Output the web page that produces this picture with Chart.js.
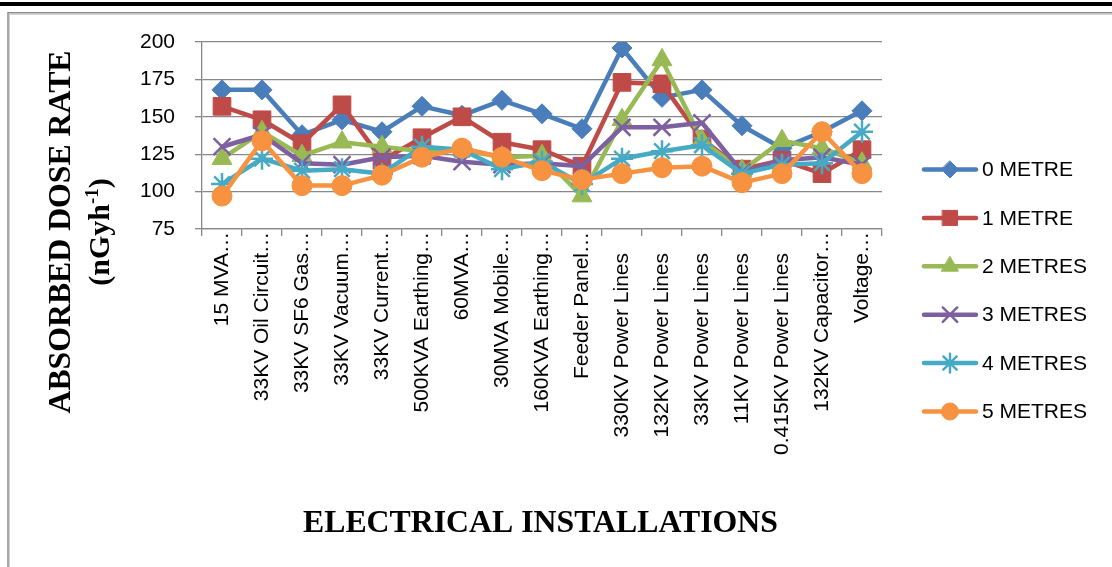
<!DOCTYPE html>
<html>
<head>
<meta charset="utf-8">
<title>Absorbed dose rate by electrical installation</title>
<script src="https://cdn.jsdelivr.net/npm/chart.js@4.4.1/dist/chart.umd.min.js"></script>
<style>
  html, body { margin: 0; padding: 0; background: #ffffff; }
  #wrap { position: relative; width: 1112px; height: 567px; }
</style>
</head>
<body>
<div id="wrap"><canvas id="doseChart"></canvas></div>
<script>
// Installations surveyed (labels as printed on the category axis)
const categories = [
  '15 MVA\u2026', '33KV Oil Circuit\u2026', '33KV SF6 Gas\u2026', '33KV Vacuum\u2026',
  '33KV Current\u2026', '500KVA Earthing\u2026', '60MVA\u2026', '30MVA Mobile\u2026',
  '160KVA Earthing\u2026', 'Feeder Panel\u2026', '330KV Power Lines', '132KV Power Lines',
  '33KV Power Lines', '11KV Power Lines', '0.415KV Power Lines', '132KV Capacitor\u2026',
  'Voltage\u2026'
];

// Measurement distance from each installation
const seriesNames = ['0 METRE', '1 METRE', '2 METRES', '3 METRES', '4 METRES', '5 METRES'];

// Absorbed dose rate (nGy/h) at each distance
const metre0 = [168, 168, 138, 148, 140, 157, 151, 161, 152, 142, 196, 163, 168, 144, 129, 140, 154];
const metre1 = [157, 148, 132, 158, 121, 136, 150, 133, 128, 117, 173, 172, 135, 115, 121, 112, 128];
const metre2 = [122, 140, 124, 133, 130, 127, 128, 123, 124, 97, 148, 188, 134, 114, 134, 129, 119];
const metre3 = [130, 138, 119, 118, 123, 124, 120, 118, 119, 117, 143, 143, 146, 113, 121, 123, 118];
const metre4 = [105, 122, 114, 115, 112, 130, 128, 115, 120, 105, 122, 127, 131, 112, 118, 119, 140];
const metre5 = [97, 134, 104, 104, 111, 123, 129, 123, 114, 108, 112, 116, 117, 106, 112, 140, 112];

// Value axis ticks
const yTicks = [75, 100, 125, 150, 175, 200];

const seriesValues = [metre0, metre1, metre2, metre3, metre4, metre5];

// Series appearance
const seriesColors = ['#4a7ebb', '#be4b48', '#98b954', '#7d60a0', '#46aac5', '#f69240'];
const markerStyles = ['rectRot', 'rect', 'triangle', 'crossRot', 'star', 'circle'];
const markerRadius = [10, 12.5, 11.5, 12, 11, 10];
const markerBorder = [1, 1, 1, 2.5, 2.5, 1];

const sansFont = '"Liberation Sans", Arial, sans-serif';
const serifFont = '"Liberation Serif", "Times New Roman", serif';
const gridColor = '#888888';

const datasets = seriesValues.map((vals, i) => ({
  label: seriesNames[i],
  data: vals,
  borderColor: seriesColors[i],
  backgroundColor: seriesColors[i],
  borderWidth: 4.5,
  borderJoinStyle: 'round',
  borderCapStyle: 'round',
  pointStyle: markerStyles[i],
  pointRadius: markerRadius[i],
  pointHoverRadius: markerRadius[i],
  pointBackgroundColor: seriesColors[i],
  pointBorderColor: seriesColors[i],
  pointBorderWidth: markerBorder[i],
  tension: 0,
  order: seriesValues.length - 1 - i
}));

// Marker shapes for the legend keys
function drawMarker(ctx, style, x, y, r, color, bw) {
  ctx.save();
  ctx.fillStyle = color;
  ctx.strokeStyle = color;
  ctx.lineWidth = bw;
  ctx.beginPath();
  const s = Math.SQRT1_2 * r;
  switch (style) {
    case 'rectRot':
      ctx.moveTo(x, y - r); ctx.lineTo(x + r, y); ctx.lineTo(x, y + r); ctx.lineTo(x - r, y);
      ctx.closePath(); ctx.fill(); ctx.stroke(); break;
    case 'rect':
      ctx.rect(x - s, y - s, 2 * s, 2 * s); ctx.fill(); ctx.stroke(); break;
    case 'triangle':
      for (let k = 0; k < 3; k++) {
        const a = k * 2 * Math.PI / 3;
        const px = x + Math.sin(a) * r, py = y - Math.cos(a) * r;
        if (k === 0) ctx.moveTo(px, py); else ctx.lineTo(px, py);
      }
      ctx.closePath(); ctx.fill(); ctx.stroke(); break;
    case 'crossRot':
      ctx.moveTo(x - s, y - s); ctx.lineTo(x + s, y + s);
      ctx.moveTo(x + s, y - s); ctx.lineTo(x - s, y + s);
      ctx.stroke(); break;
    case 'star':
      ctx.moveTo(x - s, y - s); ctx.lineTo(x + s, y + s);
      ctx.moveTo(x + s, y - s); ctx.lineTo(x - s, y + s);
      ctx.moveTo(x, y - r); ctx.lineTo(x, y + r);
      ctx.moveTo(x - r, y); ctx.lineTo(x + r, y);
      ctx.stroke(); break;
    default:
      ctx.arc(x, y, r, 0, Math.PI * 2); ctx.fill(); ctx.stroke();
  }
  ctx.restore();
}

// Horizontal scale that fits a text run to a given length
function fittedText(ctx, text, width) {
  const natural = ctx.measureText(text).width;
  return Math.min(1.06, width / natural);
}

const decorations = {
  id: 'decorations',
  beforeDraw(chart) {
    const ctx = chart.ctx;
    ctx.save();
    ctx.fillStyle = '#ffffff';
    ctx.fillRect(0, 0, chart.width, chart.height);
    // heavy rule across the top
    ctx.fillStyle = '#000000';
    ctx.fillRect(0, 2, chart.width, 4);
    // chart frame
    ctx.strokeStyle = '#8a8a8a';
    ctx.lineWidth = 1.5;
    ctx.strokeRect(8, 12.75, chart.width + 20, chart.height + 20);
    ctx.strokeStyle = '#d2d2d2';
    ctx.lineWidth = 1;
    ctx.strokeRect(9.5, 14.5, chart.width + 20, chart.height + 20);
    ctx.restore();
  },
  afterDraw(chart) {
    const ctx = chart.ctx;
    ctx.save();

    // legend
    const legendTop = 169.5, legendStep = 48.4;
    ctx.font = '21px ' + sansFont;
    ctx.textBaseline = 'middle';
    ctx.textAlign = 'left';
    chart.data.datasets.forEach((ds, i) => {
      const y = legendTop + i * legendStep;
      ctx.strokeStyle = ds.borderColor;
      ctx.lineWidth = 4.5;
      ctx.lineCap = 'round';
      ctx.beginPath();
      ctx.moveTo(924, y);
      ctx.lineTo(976, y);
      ctx.stroke();
      drawMarker(ctx, ds.pointStyle, 950, y, ds.pointRadius * 0.85, ds.borderColor, ds.pointBorderWidth);
      ctx.fillStyle = '#000000';
      ctx.fillText(ds.label, 982, y + 1);
    });

    // category axis title
    ctx.fillStyle = '#000000';
    ctx.font = 'bold 32px ' + serifFont;
    ctx.textAlign = 'center';
    ctx.textBaseline = 'alphabetic';
    const xTitle = 'ELECTRICAL INSTALLATIONS';
    const sx = fittedText(ctx, xTitle, 475);
    ctx.save();
    ctx.translate(540.5, 532);
    ctx.scale(sx, 1);
    ctx.fillText(xTitle, 0, 0);
    ctx.restore();

    // value axis title, two rotated lines
    const yTitle = 'ABSORBED DOSE RATE';
    ctx.save();
    ctx.translate(70, 232);
    ctx.rotate(-Math.PI / 2);
    ctx.font = 'bold 32px ' + serifFont;
    const sy = fittedText(ctx, yTitle, 363);
    ctx.scale(sy, 1);
    ctx.fillText(yTitle, 0, 0);
    ctx.restore();

    ctx.save();
    ctx.translate(109, 232);
    ctx.rotate(-Math.PI / 2);
    ctx.textAlign = 'left';
    const bigFont = 'bold 30px ' + serifFont;
    const supFont = 'bold 19px ' + serifFont;
    ctx.font = bigFont;
    const w1 = ctx.measureText('(nGyh').width;
    const w3 = ctx.measureText(')').width;
    ctx.font = supFont;
    const w2 = ctx.measureText('-1').width;
    let x = -(w1 + w2 + w3) / 2;
    ctx.font = bigFont;
    ctx.fillText('(nGyh', x, 0);
    x += w1;
    ctx.font = supFont;
    ctx.fillText('-1', x, -11);
    x += w2;
    ctx.font = bigFont;
    ctx.fillText(')', x, 0);
    ctx.restore();

    ctx.restore();
  }
};

new Chart(document.getElementById('doseChart'), {
  type: 'line',
  data: { labels: categories, datasets: datasets },
  plugins: [decorations],
  options: {
    responsive: true,
    maintainAspectRatio: false,
    animation: false,
    events: [],
    layout: { padding: { top: 42, right: 230, bottom: 0, left: 0 } },
    plugins: {
      legend: { display: false },
      tooltip: { enabled: false },
      title: { display: false }
    },
    scales: {
      x: {
        type: 'category',
        offset: true,
        grid: {
          offset: true,
          drawOnChartArea: false,
          drawTicks: true,
          tickLength: 7,
          color: gridColor,
          lineWidth: 1.3
        },
        border: { color: gridColor, width: 1.3 },
        ticks: {
          autoSkip: false,
          minRotation: 90,
          maxRotation: 90,
          padding: -4,
          color: '#000000',
          font: { family: sansFont, size: 21 },
          callback: function (value) {
            const label = this.getLabelForValue(value);
            return label.endsWith('\u2026') ? label : label + '\u2003';
          }
        },
        afterFit(scale) {
          scale.height = 567 - 229;
          scale.paddingLeft = 0;
          scale.paddingRight = 0;
        }
      },
      y: {
        min: yTicks[0],
        max: yTicks[yTicks.length - 1],
        afterBuildTicks(scale) {
          scale.ticks = yTicks.map(v => ({ value: v }));
        },
        grid: {
          color: gridColor,
          lineWidth: 1.3,
          drawTicks: true,
          tickLength: 7
        },
        border: { color: gridColor, width: 1.3 },
        ticks: {
          padding: 20,
          color: '#000000',
          font: { family: sansFont, size: 21 }
        },
        afterFit(scale) {
          scale.width = 202;
          scale.paddingTop = 0;
          scale.paddingBottom = 0;
        }
      }
    }
  }
});
</script>
</body>
</html>
